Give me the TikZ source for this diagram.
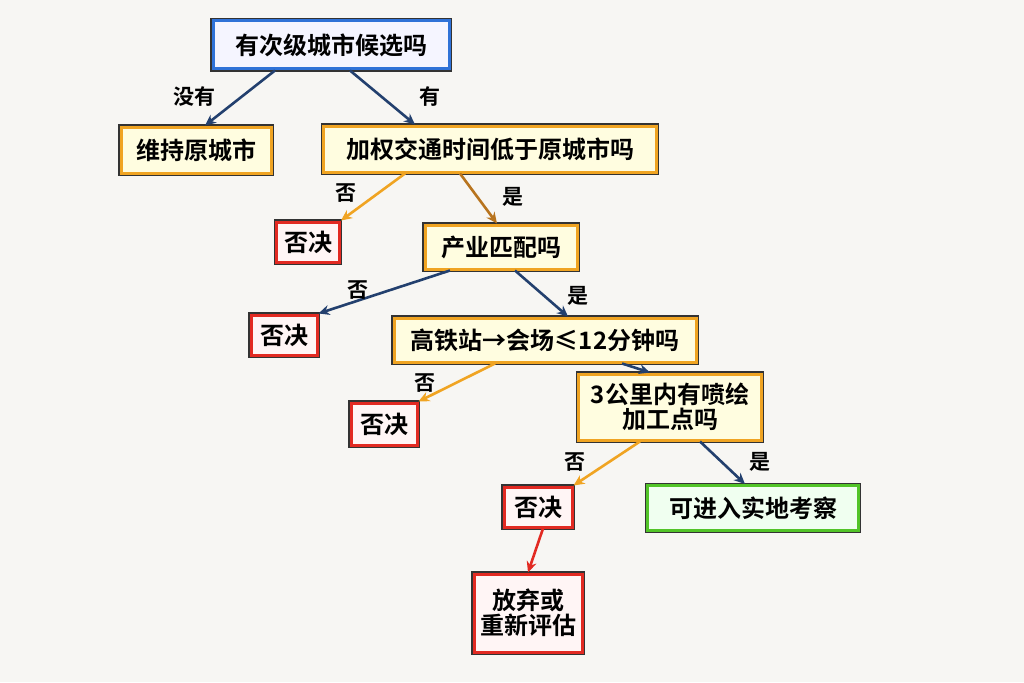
\documentclass[tikz,border=0pt]{standalone}
\usepackage{fontspec}
\setmainfont{Noto Sans CJK SC}[BoldFont={Noto Sans CJK SC Bold}]
\usetikzlibrary{arrows.meta}
\definecolor{bg}{HTML}{F7F6F3}
\definecolor{cb}{HTML}{2F72D8}
\definecolor{co}{HTML}{F0A422}
\definecolor{cr}{HTML}{E22A22}
\definecolor{cg}{HTML}{52C428}
\definecolor{navy}{HTML}{23406E}
\definecolor{brn}{HTML}{B8741E}
\tikzset{
 box/.style={draw=#1,line width=3pt,font=\bfseries\fontsize{24}{27}\selectfont,inner xsep=6pt,inner ysep=6pt,align=center,
   preaction={draw=black!80,line width=5.5pt}},
 yb/.style={box=co,fill=yellow!12},
 bb/.style={box=cb,fill=blue!4},
 rb/.style={box=cr,fill=red!4},
 gb/.style={box=cg,fill=green!6},
 ar/.style={draw=#1,line width=2.6pt,-{Stealth[length=11pt,width=10pt]}},
 lb/.style={font=\bfseries\fontsize{21}{24}\selectfont}
}
\begin{document}
\begin{tikzpicture}[x=1pt,y=-1pt]
\fill[bg] (0,0) rectangle (1024,682);
\useasboundingbox (0,0) rectangle (1024,682);
\node[bb,minimum width=236pt,minimum height=48pt] (A) at (331,45) {有次级城市候选吗};
\node[yb,minimum width=150pt,minimum height=46pt] (B) at (196,150) {维持原城市};
\node[yb,minimum width=333pt,minimum height=46pt] (C) at (490,149) {加权交通时间低于原城市吗};
\node[rb,minimum width=63pt,minimum height=40pt] (D) at (308,242) {否决};
\node[yb,minimum width=152pt,minimum height=44pt] (E) at (501,247) {产业匹配吗};
\node[rb,minimum width=66pt,minimum height=40pt] (F) at (284,335) {否决};
\node[yb,minimum width=302pt,minimum height=44pt] (G) at (545,340) {高铁站→会场≤12分钟吗};
\node[rb,minimum width=66pt,minimum height=42pt] (H) at (384,424) {否决};
\node[yb,minimum width=183pt,minimum height=66pt] (I) at (670,407) {3公里内有喷绘\\[-2pt]加工点吗};
\node[rb,minimum width=68pt,minimum height=40pt] (J) at (538,507) {否决};
\node[gb,minimum width=211pt,minimum height=45pt] (K) at (753,508) {可进入实地考察};
\node[rb,minimum width=105pt,minimum height=78pt] (L) at (528,613) {放弃或\\[-2pt]重新评估};
\coordinate (a1) at (A.south -| 275,0);
\coordinate (a2) at (A.south -| 350,0);
\coordinate (c1) at (C.south -| 405,0);
\coordinate (c2) at (C.south -| 460,0);
\coordinate (e1) at (E.south -| 450,0);
\coordinate (e2) at (E.south -| 515,0);
\coordinate (g1) at (G.south -| 495,0);
\coordinate (g2) at (G.south -| 622,0);
\coordinate (i1) at (I.south -| 640,0);
\coordinate (i2) at (I.south -| 700,0);
\coordinate (j1) at (J.south -| 543,0);
\draw[ar=navy] (a1) -- (B.north -| 205,0);
\draw[ar=navy] (a2) -- (C.north -| 415,0);
\draw[ar=co] (c1) -- (D.north east);
\draw[ar=brn] (c2) -- (E.north -| 497,0);
\draw[ar=navy] (e1) -- (F.north east);
\draw[ar=navy] (e2) -- (G.north -| 568,0);
\draw[ar=co] (g1) -- (H.north east);
\draw[ar=navy] (g2) -- (I.north -| 650,0);
\draw[ar=co] (i1) -- (J.north east);
\draw[ar=navy] (i2) -- (K.north -| 745,0);
\draw[ar=cr] (j1) -- (L.north);
\node[lb] (l1) at (194,97) {没有};
\node[lb] (l2) at (430,97) {有};
\node[lb] (l3) at (346,193) {否};
\node[lb] (l4) at (513,197) {是};
\node[lb] (l5) at (358,290) {否};
\node[lb] (l6) at (578,296) {是};
\node[lb] (l7) at (425,383) {否};
\node[lb] (l8) at (575,462) {否};
\node[lb] (l9) at (760,462) {是};
\end{tikzpicture}
\end{document}
